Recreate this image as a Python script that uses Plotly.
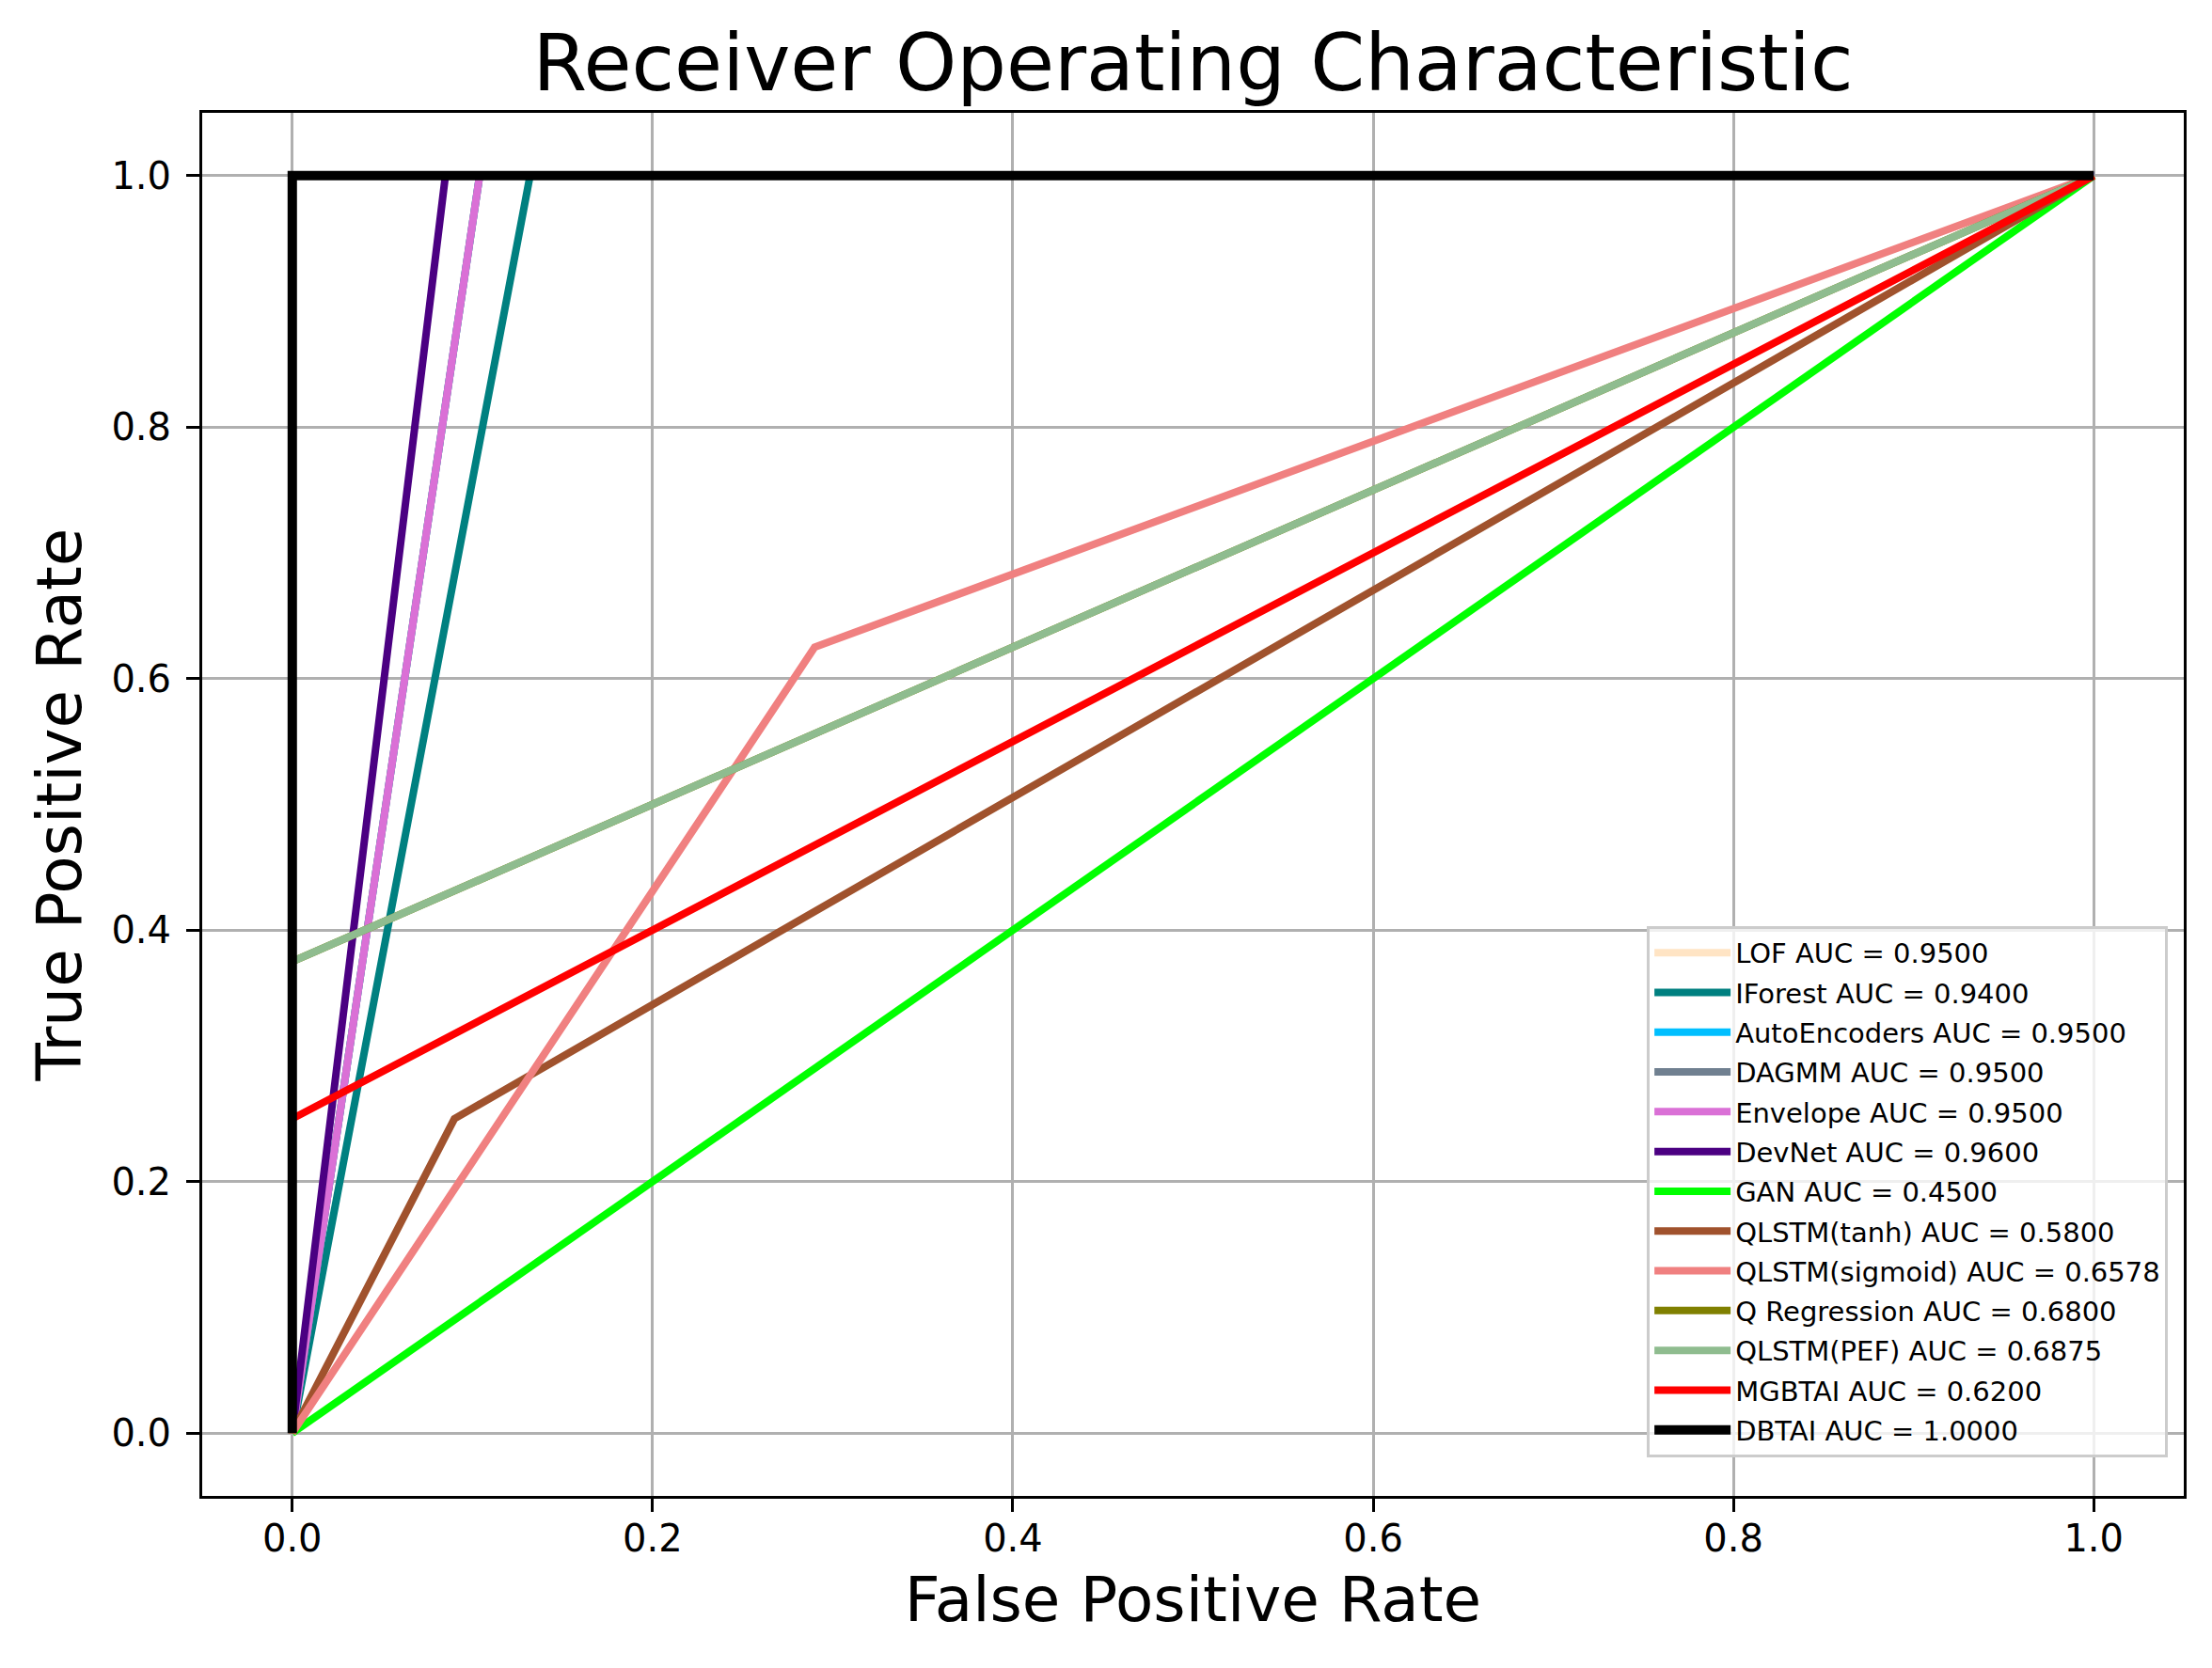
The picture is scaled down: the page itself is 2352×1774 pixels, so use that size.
import plotly.graph_objects as go

# ROC points
names = ["LOF", "IForest", "AutoEncoders", "DAGMM", "Envelope", "DevNet", "GAN",
         "QLSTM(tanh)", "QLSTM(sigmoid)", "Q Regression", "QLSTM(PEF)", "MGBTAI", "DBTAI"]
aucs = [0.9500, 0.9400, 0.9500, 0.9500, 0.9500, 0.9600, 0.4500,
        0.5800, 0.6578, 0.6800, 0.6875, 0.6200, 1.0000]
colors = ["bisque", "teal", "deepskyblue", "slategray", "orchid", "indigo", "lime",
          "sienna", "lightcoral", "olive", "darkseagreen", "red", "black"]

fpr_lof = [0.0, 0.104, 1.0]
tpr_lof = [0.0, 1.0, 1.0]
fpr_iforest = [0.0, 0.132, 1.0]
tpr_iforest = [0.0, 1.0, 1.0]
fpr_ae = [0.0, 0.104, 1.0]
tpr_ae = [0.0, 1.0, 1.0]
fpr_dagmm = [0.0, 0.104, 1.0]
tpr_dagmm = [0.0, 1.0, 1.0]
fpr_env = [0.0, 0.104, 1.0]
tpr_env = [0.0, 1.0, 1.0]
fpr_devnet = [0.0, 0.085, 1.0]
tpr_devnet = [0.0, 1.0, 1.0]
fpr_gan = [0.0, 1.0]
tpr_gan = [0.0, 1.0]
fpr_tanh = [0.0, 0.09, 1.0]
tpr_tanh = [0.0, 0.25, 1.0]
fpr_sig = [0.0, 0.29, 1.0]
tpr_sig = [0.0, 0.625, 1.0]
fpr_qreg = [0.0, 0.0, 1.0]
tpr_qreg = [0.0, 0.375, 1.0]
fpr_pef = [0.0, 0.0, 1.0]
tpr_pef = [0.0, 0.375, 1.0]
fpr_mgbtai = [0.0, 0.0, 1.0]
tpr_mgbtai = [0.0, 0.25, 1.0]
fpr_dbtai = [0.0, 0.0, 1.0]
tpr_dbtai = [0.0, 1.0, 1.0]

fprs = [fpr_lof, fpr_iforest, fpr_ae, fpr_dagmm, fpr_env, fpr_devnet, fpr_gan,
        fpr_tanh, fpr_sig, fpr_qreg, fpr_pef, fpr_mgbtai, fpr_dbtai]
tprs = [tpr_lof, tpr_iforest, tpr_ae, tpr_dagmm, tpr_env, tpr_devnet, tpr_gan,
        tpr_tanh, tpr_sig, tpr_qreg, tpr_pef, tpr_mgbtai, tpr_dbtai]

tick_vals = [0.0, 0.2, 0.4, 0.6, 0.8, 1.0]

FONT = "DejaVu Sans"

fig = go.Figure()
for name, auc, c, x, y in zip(names, aucs, colors, fprs, tprs):
    fig.add_trace(go.Scatter(
        x=x, y=y, mode="lines", name=f"{name} AUC = {auc:.4f}",
        legendgroup=name,
        line=dict(color=c, width=10 if name == "DBTAI" else 8),
    ))

axis_style = dict(
    showgrid=True, gridcolor="#b0b0b0", gridwidth=3, zeroline=False,
    showline=True, linecolor="black", linewidth=3, mirror=True,
    ticks="outside", ticklen=14, tickwidth=3, tickcolor="black",
    tickvals=tick_vals, tickformat=".1f",
    tickfont=dict(family=FONT, size=40, color="black"),
)

# the page body adds an 8px margin, so the figure is 16px smaller than the window
fig.update_layout(
    width=2344, height=1766,
    margin=dict(l=207, r=30, t=112, b=183),
    paper_bgcolor="white", plot_bgcolor="white",
    font=dict(family=FONT, color="black"),
    title=dict(text="Receiver Operating Characteristic", x=0.5, xref="paper",
               y=0.950, yref="container", yanchor="bottom",
               font=dict(family=FONT, size=83, color="black")),
    xaxis=dict(range=[-0.05, 1.05], ticklabelstandoff=-6,
               title=dict(text="False Positive Rate", standoff=20,
                          font=dict(family=FONT, size=66, color="black")), **axis_style),
    yaxis=dict(range=[-0.05, 1.05], ticklabelstandoff=8,
               title=dict(text="True Positive Rate", standoff=11,
                          font=dict(family=FONT, size=66, color="black")), **axis_style),
    legend=dict(x=0.992, y=0.028, xanchor="right", yanchor="bottom",
                bgcolor="rgba(255,255,255,0.8)", bordercolor="#cccccc", borderwidth=3,
                itemwidth=81, tracegroupgap=1.6,
                font=dict(family=FONT, size=29, color="black")),
    showlegend=True,
)

fig.write_html("out.html")
